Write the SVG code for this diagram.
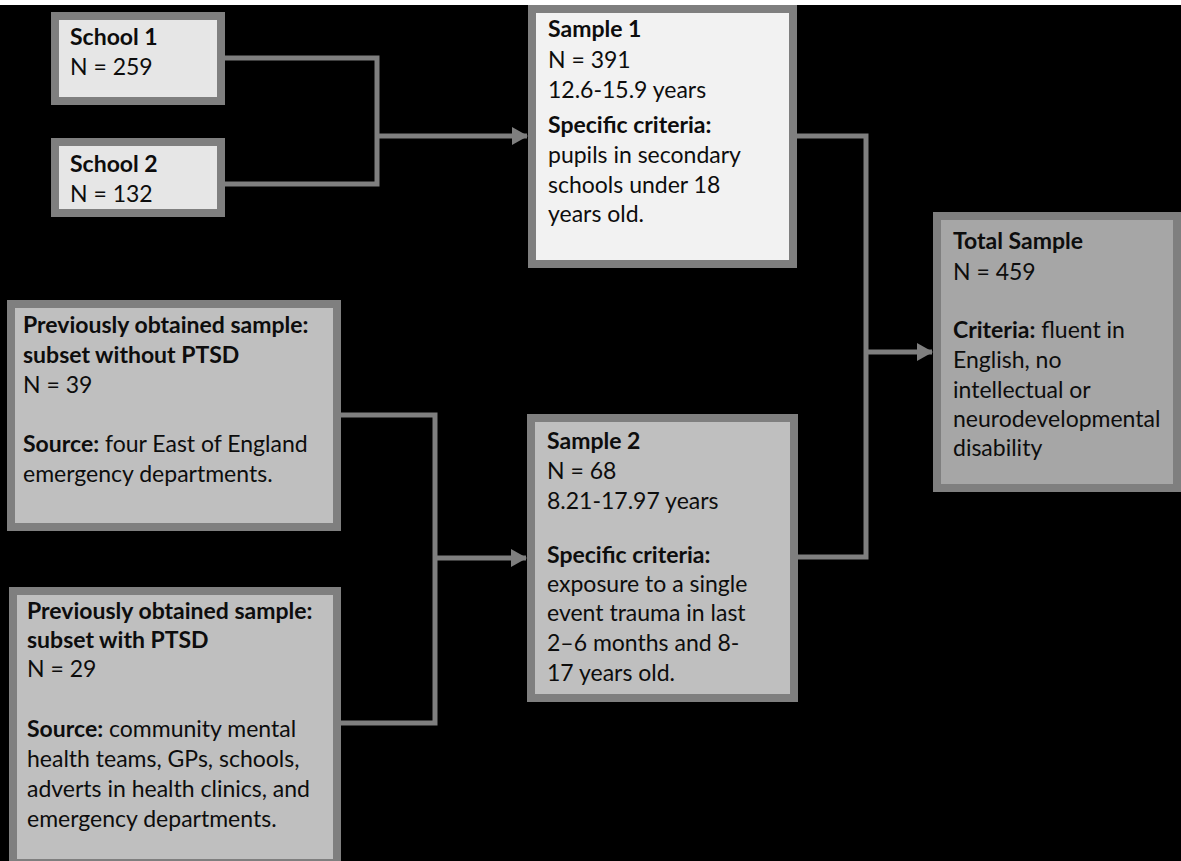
<svg xmlns="http://www.w3.org/2000/svg" width="1181" height="861" viewBox="0 0 1181 861">
<style>
.box{stroke:#7f7f7f;stroke-width:8}
.t{font-family:Lato,"Liberation Sans",sans-serif;font-size:23px;fill:#0d0d0d}
.b{font-weight:bold}
.c{fill:none;stroke:#7f7f7f;stroke-width:5}
</style>
<defs>
<marker id="ah" markerUnits="userSpaceOnUse" markerWidth="16" markerHeight="18" refX="15" refY="9" orient="auto">
<path d="M0,0 L16,9 L0,18 Z" fill="#7f7f7f"/>
</marker>
</defs>
<rect x="0" y="0" width="1181" height="861" fill="#000"/>
<rect x="0" y="0" width="1181" height="5" fill="#fff"/>
<g id="connectors">
<polyline class="c" points="225,58 377,58 377,184 225,184"/>
<line class="c" x1="377" y1="136" x2="527" y2="136" marker-end="url(#ah)"/>
<polyline class="c" points="797,136 866,136 866,557 798,557"/>
<line class="c" x1="866" y1="352" x2="932" y2="352" marker-end="url(#ah)"/>
<polyline class="c" points="341,415 435,415 435,723 341,723"/>
<line class="c" x1="435" y1="558" x2="526" y2="558" marker-end="url(#ah)"/>
</g>
<g id="school1">
<rect class="box" x="55" y="16" width="166" height="85" fill="#e6e6e6"/>
<text class="t b" x="70" y="45">School 1</text>
<text class="t" x="70" y="75">N = 259</text>
</g>
<g id="school2">
<rect class="box" x="55" y="142" width="166" height="71" fill="#e6e6e6"/>
<text class="t b" x="70" y="172">School 2</text>
<text class="t" x="70" y="202">N = 132</text>
</g>
<g id="sample1">
<rect class="box" x="532" y="9" width="261" height="255" fill="#f2f2f2"/>
<text class="t b" x="548" y="37">Sample 1</text>
<text class="t" x="548" y="68">N = 391</text>
<text class="t" x="548" y="98">12.6-15.9 years</text>
<text class="t b" x="548" y="133">Specific criteria:</text>
<text class="t" x="548" y="163">pupils in secondary</text>
<text class="t" x="548" y="193">schools under 18</text>
<text class="t" x="548" y="222">years old.</text>
</g>
<g id="total">
<rect class="box" x="937" y="216" width="240" height="272" fill="#a6a6a6"/>
<text class="t b" x="953" y="249">Total Sample</text>
<text class="t" x="953" y="280">N = 459</text>
<text class="t" x="953" y="338"><tspan class="b">Criteria:</tspan> fluent in</text>
<text class="t" x="953" y="368">English, no</text>
<text class="t" x="953" y="398">intellectual or</text>
<text class="t" x="953" y="427">neurodevelopmental</text>
<text class="t" x="953" y="456">disability</text>
</g>
<g id="prev_without">
<rect class="box" x="11" y="304" width="326" height="223" fill="#bfbfbf"/>
<text class="t b" x="23" y="333">Previously obtained sample:</text>
<text class="t b" x="23" y="363">subset without PTSD</text>
<text class="t" x="23" y="393">N = 39</text>
<text class="t" x="23" y="452"><tspan class="b">Source:</tspan> four East of England</text>
<text class="t" x="23" y="482">emergency departments.</text>
</g>
<g id="sample2">
<rect class="box" x="531" y="418" width="263" height="280" fill="#bfbfbf"/>
<text class="t b" x="547" y="449">Sample 2</text>
<text class="t" x="547" y="479">N = 68</text>
<text class="t" x="547" y="509">8.21-17.97 years</text>
<text class="t b" x="547" y="563">Specific criteria:</text>
<text class="t" x="547" y="592">exposure to a single</text>
<text class="t" x="547" y="621">event trauma in last</text>
<text class="t" x="547" y="651">2–6 months and 8-</text>
<text class="t" x="547" y="681">17 years old.</text>
</g>
<g id="prev_with">
<rect class="box" x="13" y="591" width="324" height="272" fill="#bfbfbf"/>
<text class="t b" x="27" y="619">Previously obtained sample:</text>
<text class="t b" x="27" y="648">subset with PTSD</text>
<text class="t" x="27" y="677">N = 29</text>
<text class="t" x="27" y="737"><tspan class="b">Source:</tspan> community mental</text>
<text class="t" x="27" y="767">health teams, GPs, schools,</text>
<text class="t" x="27" y="797">adverts in health clinics, and</text>
<text class="t" x="27" y="827">emergency departments.</text>
</g>
</svg>
